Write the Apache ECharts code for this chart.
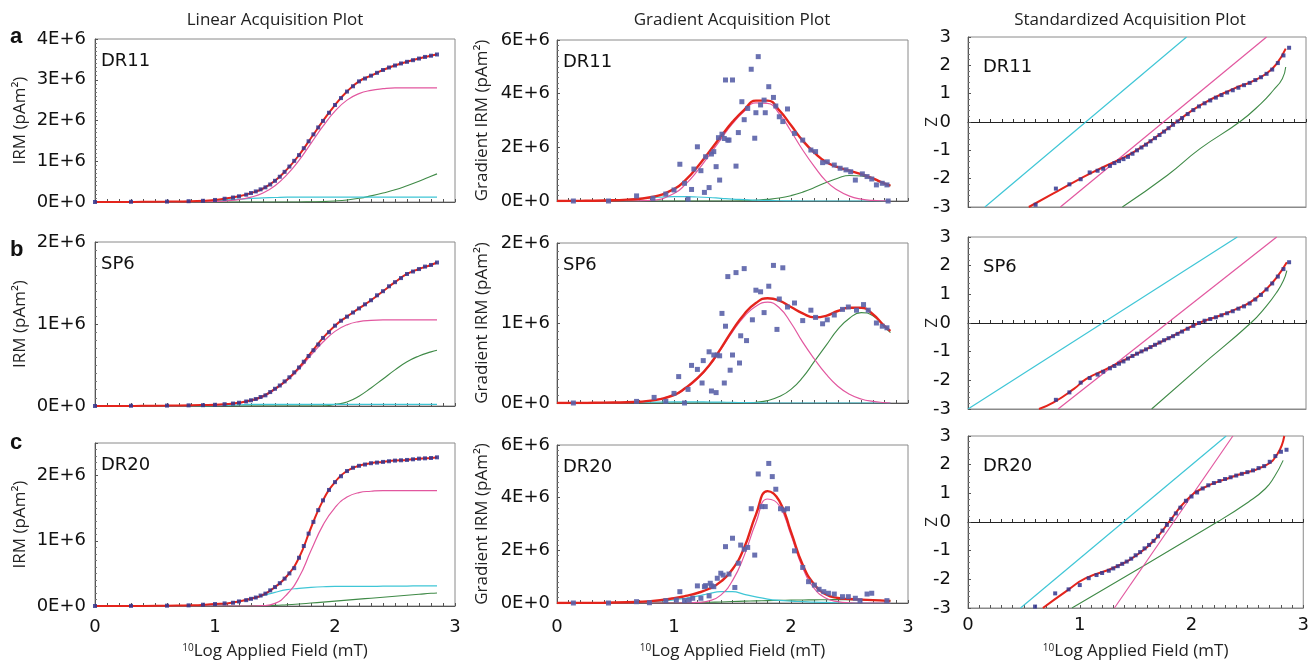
<!DOCTYPE html>
<html><head><meta charset="utf-8">
<script src="https://cdn.jsdelivr.net/npm/echarts@6/dist/echarts.min.js"></script>
<style>html,body{margin:0;padding:0;background:#fff}#c{width:1312px;height:661px}</style>
</head><body><div id="c"></div>
<script>
// ---------- DATA ----------
// x grid (log10 applied field, mT) for model curves in linear & gradient plots
const curveX = [0,0.2,0.4,0.6,0.8,1.0,1.1,1.2,1.3,1.4,1.5,1.6,1.7,1.8,1.9,2.0,2.1,2.2,2.3,2.4,2.5,2.6,2.7,2.8,2.85];

// Linear acquisition (IRM, units of 1E+6 pAm²)
const linDR11Total = [0,0,0.005,0.01,0.02,0.05,0.09,0.14,0.22,0.33,0.52,0.80,1.15,1.57,1.99,2.38,2.71,2.96,3.10,3.24,3.35,3.44,3.52,3.59,3.62];
const linDR11Pink  = [0,0,0,0,0,0.01,0.03,0.06,0.12,0.22,0.40,0.67,1.02,1.44,1.86,2.23,2.50,2.66,2.74,2.78,2.80,2.80,2.80,2.80,2.80];
const linDR11Cyan  = [0,0,0,0,0.01,0.03,0.05,0.07,0.09,0.10,0.11,0.12,0.12,0.12,0.12,0.12,0.12,0.12,0.12,0.12,0.12,0.12,0.12,0.12,0.12];
const linDR11Green = [0,0,0,0,0,0,0,0,0,0,0,0,0,0.005,0.01,0.025,0.05,0.09,0.15,0.22,0.30,0.40,0.51,0.63,0.69];

const linSP6Total = [0,0,0.002,0.005,0.01,0.015,0.025,0.04,0.07,0.12,0.21,0.32,0.47,0.65,0.83,0.98,1.09,1.19,1.29,1.40,1.51,1.61,1.67,1.72,1.75];
const linSP6Pink  = [0,0,0,0,0.005,0.01,0.02,0.035,0.065,0.11,0.2,0.31,0.45,0.62,0.78,0.91,0.99,1.03,1.045,1.05,1.05,1.05,1.05,1.05,1.05];
const linSP6Cyan  = [0,0,0,0,0,0.005,0.01,0.015,0.02,0.02,0.02,0.02,0.02,0.02,0.02,0.02,0.02,0.02,0.02,0.02,0.02,0.02,0.02,0.02,0.02];
const linSP6Green = [0,0,0,0,0,0,0,0,0,0,0,0,0,0,0,0.02,0.05,0.12,0.22,0.33,0.44,0.54,0.61,0.66,0.68];

const linDR20Total = [0,0,0,0.005,0.01,0.03,0.04,0.07,0.11,0.17,0.29,0.46,0.74,1.20,1.62,1.90,2.07,2.15,2.19,2.21,2.23,2.24,2.26,2.27,2.28];
const linDR20Pink  = [0,0,0,0,0,0,0,0,0,0.005,0.04,0.18,0.44,0.85,1.24,1.51,1.67,1.74,1.76,1.77,1.77,1.77,1.77,1.77,1.77];
const linDR20Cyan  = [0,0,0,0,0.005,0.02,0.04,0.07,0.11,0.16,0.21,0.25,0.27,0.285,0.295,0.30,0.30,0.30,0.30,0.305,0.305,0.305,0.31,0.31,0.31];
const linDR20Green = [0,0,0,0,0,0,0,0,0.002,0.005,0.01,0.02,0.03,0.045,0.06,0.075,0.09,0.105,0.12,0.135,0.15,0.165,0.18,0.195,0.2];

// measured fields (log10 mT) for IRM / z data points
const fieldLog = [0,0.3,0.6,0.78,0.9,1.0,1.08,1.15,1.2,1.26,1.3,1.34,1.38,1.42,1.46,1.5,1.54,1.58,1.62,1.66,1.7,1.74,1.78,1.82,1.86,1.9,1.95,2.0,2.05,2.1,2.15,2.2,2.25,2.3,2.35,2.4,2.45,2.5,2.55,2.6,2.65,2.7,2.75,2.8,2.85];
const linDR11Pts = [0,0.005,0.01,0.02,0.03,0.05,0.08,0.11,0.14,0.18,0.22,0.26,0.31,0.36,0.43,0.52,0.62,0.74,0.87,1.01,1.15,1.32,1.49,1.66,1.83,1.99,2.19,2.38,2.55,2.71,2.84,2.96,3.03,3.10,3.17,3.24,3.30,3.35,3.40,3.44,3.48,3.52,3.56,3.59,3.62];
const linSP6Pts  = [0,0.003,0.005,0.008,0.01,0.015,0.022,0.03,0.04,0.055,0.07,0.085,0.11,0.13,0.17,0.21,0.25,0.30,0.35,0.41,0.47,0.54,0.61,0.68,0.75,0.83,0.90,0.98,1.04,1.09,1.14,1.19,1.24,1.29,1.35,1.40,1.46,1.51,1.56,1.61,1.64,1.67,1.70,1.72,1.75];
const linDR20Pts = [0,0.002,0.005,0.01,0.02,0.03,0.04,0.05,0.07,0.09,0.11,0.13,0.16,0.19,0.24,0.29,0.35,0.42,0.50,0.58,0.74,0.92,1.11,1.29,1.47,1.62,1.78,1.90,1.99,2.07,2.12,2.15,2.17,2.19,2.20,2.21,2.22,2.23,2.235,2.24,2.25,2.26,2.265,2.27,2.28];

// Gradient acquisition (units of 1E+6 pAm² per log unit)
const grdDR11Total = [0,0.005,0.02,0.05,0.14,0.44,0.79,1.27,1.83,2.40,2.95,3.40,3.74,3.74,3.38,2.82,2.25,1.80,1.45,1.26,1.13,1.00,0.84,0.65,0.57];
const grdDR11Pink  = [0,0,0,0,0.02,0.28,0.63,1.12,1.70,2.30,2.88,3.34,3.66,3.64,3.25,2.60,1.90,1.28,0.74,0.40,0.18,0.07,0.02,0.005,0];
const grdDR11Cyan  = [0,0,0.01,0.05,0.12,0.16,0.16,0.15,0.13,0.10,0.07,0.05,0.03,0.02,0.01,0.005,0,0,0,0,0,0,0,0,0];
const grdDR11Green = [0,0,0,0,0,0,0,0,0,0,0,0.01,0.03,0.06,0.11,0.2,0.33,0.5,0.69,0.85,0.95,0.93,0.82,0.64,0.57];
const grdDR11PtX = [0.14,0.44,0.68,0.82,0.93,1.00,1.05,1.09,1.12,1.15,1.17,1.20,1.23,1.26,1.27,1.30,1.32,1.34,1.36,1.38,1.39,1.41,1.43,1.44,1.46,1.47,1.50,1.53,1.55,1.58,1.60,1.63,1.66,1.69,1.70,1.72,1.74,1.77,1.78,1.81,1.85,1.87,1.90,1.93,1.97,2.03,2.10,2.17,2.21,2.27,2.31,2.37,2.42,2.47,2.51,2.55,2.61,2.65,2.69,2.73,2.78,2.82,2.83];
const grdDR11PtY = [0,0,0.19,0.10,0.26,0.41,1.37,0.66,0.07,0.43,1.19,2.02,1.13,0.32,1.65,0.50,1.75,1.84,1.28,2.36,0.78,2.49,2.33,4.51,2.27,2.27,4.51,1.30,2.55,3.70,3.03,3.45,4.91,2.34,3.29,5.38,3.58,3.76,3.29,4.26,3.86,3.54,3.14,2.96,3.43,2.52,2.27,1.90,1.84,1.43,1.46,1.34,1.22,1.16,1.09,0.78,1.01,0.91,0.82,0.60,0.66,0.60,0];

const grdSP6Total = [0,0,0.005,0.01,0.03,0.10,0.19,0.31,0.47,0.68,0.91,1.11,1.25,1.31,1.28,1.20,1.12,1.07,1.09,1.15,1.19,1.19,1.11,0.96,0.90];
const grdSP6Pink  = [0,0,0,0.005,0.03,0.10,0.18,0.30,0.46,0.67,0.89,1.08,1.21,1.26,1.19,1.0,0.76,0.55,0.36,0.21,0.11,0.05,0.02,0.005,0];
const grdSP6Cyan  = [0,0,0,0.005,0.01,0.015,0.015,0.015,0.012,0.01,0.008,0.005,0.003,0,0,0,0,0,0,0,0,0,0,0,0];
const grdSP6Green = [0,0,0,0,0,0,0,0,0,0,0,0,0.01,0.03,0.08,0.17,0.32,0.52,0.72,0.92,1.06,1.13,1.09,0.95,0.88];
const grdSP6PtX = [0.14,0.68,0.83,0.93,1.00,1.04,1.09,1.12,1.15,1.20,1.24,1.25,1.30,1.32,1.34,1.36,1.37,1.39,1.41,1.43,1.44,1.46,1.48,1.50,1.53,1.56,1.57,1.60,1.62,1.67,1.70,1.74,1.77,1.81,1.85,1.88,1.90,1.93,1.97,2.03,2.10,2.17,2.21,2.27,2.31,2.37,2.44,2.49,2.56,2.62,2.66,2.73,2.78,2.82];
const grdSP6PtY = [0,0.02,0.07,0.02,0.12,0.33,0,0.17,0.47,0.42,0.25,0.53,0.64,0.15,0.60,0.13,0.60,0.59,1.12,0.25,0.96,1.58,0.41,0.60,1.63,0.50,0.84,1.68,0.78,1.04,1.41,1.39,1.13,1.46,1.72,0.92,1.30,1.69,1.20,1.25,1.03,1.16,1.07,0.99,1.04,1.10,1.17,1.20,1.16,1.23,1.16,1.00,0.96,0.94];

const grdDR20Total = [0,0.005,0.01,0.03,0.07,0.18,0.27,0.38,0.54,0.81,1.28,2.10,3.35,4.25,3.88,2.70,1.45,0.70,0.32,0.19,0.15,0.13,0.11,0.09,0.08];
const grdDR20Pink  = [0,0,0,0,0,0,0.005,0.02,0.08,0.30,0.85,1.80,3.05,3.95,3.70,2.58,1.33,0.55,0.18,0.05,0.01,0,0,0,0];
const grdDR20Cyan  = [0,0,0,0.01,0.05,0.12,0.18,0.26,0.36,0.43,0.43,0.33,0.23,0.15,0.10,0.07,0.05,0.03,0.02,0.01,0.005,0,0,0,0];
const grdDR20Green = [0,0,0,0,0.005,0.01,0.015,0.02,0.03,0.04,0.055,0.07,0.08,0.09,0.10,0.11,0.115,0.12,0.125,0.13,0.125,0.12,0.11,0.09,0.08];
const grdDR20PtX = [0.14,0.44,0.68,0.79,0.93,1.02,1.05,1.09,1.13,1.16,1.20,1.23,1.26,1.27,1.30,1.31,1.32,1.34,1.37,1.40,1.42,1.44,1.47,1.50,1.52,1.55,1.57,1.60,1.63,1.66,1.69,1.72,1.75,1.78,1.81,1.84,1.87,1.91,1.94,1.97,2.03,2.10,2.15,2.20,2.24,2.28,2.32,2.37,2.44,2.49,2.55,2.59,2.65,2.69,2.82];
const grdDR20PtY = [0,0,0.05,0.01,0.09,0.11,0.43,0.09,0.11,0.18,0.65,0.18,0.62,0.66,0.27,0.75,0.65,0.62,0.94,1.13,1.06,2.14,1.10,2.46,0.59,1.51,2.20,2.04,2.11,3.58,1.82,4.90,3.66,3.66,5.30,4.80,4.32,3.58,3.53,3.58,1.98,1.35,0.81,0.68,0.52,0.43,0.37,0.34,0.24,0.24,0.18,0.09,0.34,0.37,0.09];

// Standardized acquisition (z values) at fieldLog; null = below plotted range
const zDR11Pts = [null,null,-2.92,-2.35,-2.2,-2.02,-1.78,-1.72,-1.65,-1.55,-1.45,-1.38,-1.31,-1.23,-1.12,-1.0,-0.90,-0.80,-0.68,-0.57,-0.46,-0.34,-0.22,-0.10,0.02,0.14,0.28,0.42,0.55,0.66,0.76,0.86,0.95,1.04,1.12,1.21,1.30,1.38,1.48,1.58,1.70,1.85,2.08,2.35,2.62];
const zSP6Pts  = [null,null,null,-2.68,-2.42,-2.08,-1.92,-1.8,-1.7,-1.58,-1.50,-1.42,-1.34,-1.24,-1.15,-1.07,-0.99,-0.92,-0.84,-0.76,-0.68,-0.60,-0.53,-0.46,-0.38,-0.30,-0.2,-0.1,0.0,0.08,0.14,0.2,0.27,0.34,0.41,0.5,0.58,0.68,0.82,0.98,1.17,1.38,1.62,1.88,2.12];
const zDR20Pts = [null,null,-2.95,-2.49,-2.35,-2.2,-1.96,-1.85,-1.78,-1.70,-1.62,-1.54,-1.46,-1.38,-1.28,-1.16,-1.05,-0.92,-0.80,-0.66,-0.5,-0.3,-0.1,0.1,0.3,0.5,0.74,0.89,1.03,1.17,1.28,1.36,1.43,1.50,1.56,1.62,1.68,1.74,1.80,1.88,1.95,2.1,2.3,2.45,2.52];
// model lines [log field, z]
const zDR11Total = [[0.54,-3],[0.75,-2.54],[0.94,-2.12],[1.17,-1.65],[1.47,-1.06],[1.77,-0.24],[1.85,0],[2.06,0.59],[2.36,1.18],[2.51,1.41],[2.65,1.71],[2.74,2.06],[2.82,2.59]];
const zDR11Cyan  = [[0.15,-3],[1.94,3]];
const zDR11Pink  = [[0.82,-3],[2.65,3]];
const zDR11Green = [[1.37,-3],[1.77,-1.88],[2.06,-0.94],[2.41,0],[2.60,0.65],[2.71,1.12],[2.79,1.53],[2.82,1.94]];
const zSP6Total = [[0.63,-3],[0.76,-2.77],[0.94,-2.3],[1.05,-1.95],[1.2,-1.66],[1.47,-1.13],[1.77,-0.55],[2.05,0],[2.21,0.22],[2.36,0.45],[2.51,0.74],[2.65,1.19],[2.74,1.59],[2.83,2.12]];
const zSP6Cyan  = [[0.0,-3],[2.39,3]];
const zSP6Pink  = [[0.80,-3],[2.74,3]];
const zSP6Green = [[1.63,-3],[2.06,-1.52],[2.51,0],[2.65,0.6],[2.74,1.07],[2.80,1.48],[2.83,1.83]];
const zDR20Total = [[0.67,-3],[0.88,-2.41],[1.05,-1.97],[1.32,-1.57],[1.53,-1.10],[1.68,-0.58],[1.81,0.06],[1.94,0.70],[2.09,1.16],[2.36,1.57],[2.66,1.97],[2.77,2.38],[2.83,3.0]];
const zDR20Cyan  = [[0.47,-3],[2.31,3]];
const zDR20Pink  = [[1.31,-3],[2.37,3]];
const zDR20Green = [[0.93,-3],[2.23,0],[2.51,0.7],[2.66,1.16],[2.74,1.57],[2.82,2.15]];

const sampleNames = ['DR11','SP6','DR20'];
const panelLetters = ['a','b','c'];
const colTitles = ['Linear Acquisition Plot','Gradient Acquisition Plot','Standardized Acquisition Plot'];
const xTickLabels = ['0','1','2','3'];

// ---------- BUILD ----------
const zipXY = (xs, ys) => xs.map((x, i) => [x, ys[i]]).filter(p => p[1] != null);
const panels = [
  [ {t:linDR11Total,p:linDR11Pink,c:linDR11Cyan,g:linDR11Green,pts:zipXY(fieldLog,linDR11Pts)},
    {t:linSP6Total,p:linSP6Pink,c:linSP6Cyan,g:linSP6Green,pts:zipXY(fieldLog,linSP6Pts)},
    {t:linDR20Total,p:linDR20Pink,c:linDR20Cyan,g:linDR20Green,pts:zipXY(fieldLog,linDR20Pts)} ],
  [ {t:grdDR11Total,p:grdDR11Pink,c:grdDR11Cyan,g:grdDR11Green,pts:zipXY(grdDR11PtX,grdDR11PtY)},
    {t:grdSP6Total,p:grdSP6Pink,c:grdSP6Cyan,g:grdSP6Green,pts:zipXY(grdSP6PtX,grdSP6PtY)},
    {t:grdDR20Total,p:grdDR20Pink,c:grdDR20Cyan,g:grdDR20Green,pts:zipXY(grdDR20PtX,grdDR20PtY)} ],
  [ {t:zDR11Total,p:zDR11Pink,c:zDR11Cyan,g:zDR11Green,pts:zipXY(fieldLog,zDR11Pts)},
    {t:zSP6Total,p:zSP6Pink,c:zSP6Cyan,g:zSP6Green,pts:zipXY(fieldLog,zSP6Pts)},
    {t:zDR20Total,p:zDR20Pink,c:zDR20Cyan,g:zDR20Green,pts:zipXY(fieldLog,zDR20Pts)} ]
];

const COL = [
  {left:95, width:360, yName:'IRM (pAm²)', yGap:66, lblMargin:9, xGap:37, xLblMargin:12,
   rows:[{top:39,h:163,max:4,iv:1},{top:242,h:164,max:2,iv:1},{top:443,h:163,max:2.5,iv:1}]},
  {left:557, width:351, yName:'Gradient IRM (pAm²)', yGap:66, lblMargin:7, xGap:40, xLblMargin:15,
   rows:[{top:40,h:161,max:6,iv:2},{top:243,h:160,max:2,iv:1},{top:445,h:158,max:6,iv:2}]},
  {left:968, width:338, yName:'Z', yGap:27, lblMargin:17, xGap:35, xLblMargin:8,
   rows:[{top:37,h:170,min:-3,max:3,iv:1},{top:237,h:172,min:-3,max:3,iv:1},{top:436,h:172,min:-3,max:3,iv:1}]}
];

const C = {red:'#e4241c', pink:'#e2579f', cyan:'#3fc6d6', green:'#3f8a47', dot:'#33368f', gdot:'#5a62a8', axis:'#555', frame:'#8a8a8a'};
const tickFont = {fontFamily:'DejaVu Sans', fontSize:18, color:'#111'};
const eFmt = v => v === 0 ? '0E+0' : (v + 'E+6');

const grids = [], xAxes = [], yAxes = [], series = [], graphics = [];
let gi = 0;
for (let c = 0; c < 3; c++) {
  const col = COL[c];
  for (let r = 0; r < 3; r++) {
    const rw = col.rows[r];
    grids.push({left:col.left, top:rw.top, width:col.width, height:rw.h, show:true, borderColor:C.frame, borderWidth:1});
    const last = r === 2;
    xAxes.push({
      gridIndex:gi, type:'value', min:0, max:3, interval:1, position:'bottom',
      axisLine:{show:true, onZero:false, lineStyle:{color: c===2 ? C.frame : C.axis, width:1}},
      axisTick:{show: c!==2 || last, inside:true, length:3, lineStyle:{color:C.axis}},
      minorTick:{show: c!==2 || last, splitNumber:10, length:3, lineStyle:{color:C.axis}},
      splitLine:{show:false},
      axisLabel:{show:last, margin:col.xLblMargin, formatter: v => xTickLabels[Math.round(v)], ...tickFont},
      name: last ? '{s|10}{n|Log Applied Field (mT)}' : '',
      nameLocation:'middle', nameGap:col.xGap, nameMoveOverlap:false,
      nameTextStyle:{rich:{s:{fontFamily:'Open Sans', fontSize:10, color:'#222', verticalAlign:'top', padding:[0,0,6,0]},
                           n:{fontFamily:'Open Sans', fontSize:17, color:'#222'}}}
    });
    const xi = xAxes.length - 1;
    if (c === 2) {
      xAxes.push({
        gridIndex:gi, type:'value', min:0, max:3, interval:1, position:'bottom',
        axisLine:{show:true, onZero:true, lineStyle:{color:'#222', width:1}},
        axisTick:{show:true, inside:true, length:3, lineStyle:{color:'#333'}},
        minorTick:{show:true, splitNumber:10, length:3, lineStyle:{color:'#333'}},
        splitLine:{show:false}, axisLabel:{show:false}
      });
    }
    yAxes.push({
      gridIndex:gi, type:'value', min: rw.min != null ? rw.min : 0, max:rw.max, interval:rw.iv,
      axisLine:{show:true, onZero:false, lineStyle:{color:C.axis}},
      axisTick:{show:true, inside:true, length:3, lineStyle:{color:C.axis}},
      minorTick:{show:true, splitNumber: c===2 ? 5 : 10, length:2, lineStyle:{color:'#777'}},
      splitLine:{show:false},
      axisLabel:{margin:col.lblMargin, showMaxLabel: rw.max !== 2.5, formatter: c===2 ? (v => String(v)) : eFmt, ...tickFont},
      name: col.yName, nameLocation:'middle', nameGap:col.yGap, nameRotate:90, nameMoveOverlap:false,
      nameTextStyle:{fontFamily:'Open Sans', fontSize:17, color:'#222'}
    });
    const yi = yAxes.length - 1;
    const pd = panels[c][r];
    const toXY = arr => c === 2 ? arr : curveX.map((x, i) => [x, arr[i]]);
    const lineS = (data, color, w, z) => ({type:'line', xAxisIndex:xi, yAxisIndex:yi, data:toXY(data), showSymbol:false,
      smooth: (c===2 && data.length===2) ? false : 0.5, clip:true, silent:true, z:z,
      lineStyle:{color:color, width:w}});
    series.push(lineS(pd.g, C.green, 1.1, 2));
    series.push(lineS(pd.c, C.cyan, 1.2, 2));
    series.push(lineS(pd.p, C.pink, 1.2, 3));
    series.push(lineS(pd.t, C.red, c===1 ? 2.4 : 2, 4));
    series.push({type:'scatter', xAxisIndex:xi, yAxisIndex:yi, data:pd.pts, symbol:'rect', clip:true, silent:true, z:5,
      symbolSize: c===1 ? 5 : 4, itemStyle:{color: c===1 ? C.gdot : C.dot, opacity: c===1 ? 0.9 : 0.85}});
    // sample name inside plot
    graphics.push({type:'text', left: col.left + (c===2 ? 15 : 6), top: rw.top + (c===2 ? 21 : 13),
      style:{text: sampleNames[r], font:'18px "DejaVu Sans"', fill:'#111'}});
    gi++;
  }
}
// column titles
const titleCx = [275, 732, 1130];
for (let c = 0; c < 3; c++) {
  graphics.push({type:'text', x:titleCx[c], y:20, style:{text:colTitles[c], font:'17px "Open Sans"', fill:'#222', align:'center', verticalAlign:'middle'}});
}
// panel letters
const letterY = [37, 250, 443];
for (let r = 0; r < 3; r++) {
  graphics.push({type:'text', x:10, y:letterY[r], style:{text:panelLetters[r], font:'bold 22px "Liberation Sans"', fill:'#111', align:'left', verticalAlign:'middle'}});
}

const chart = echarts.init(document.getElementById('c'), null, {renderer:'canvas'});
chart.setOption({animation:false, backgroundColor:'#fff', grid:grids, xAxis:xAxes, yAxis:yAxes, series:series, graphic:graphics});
</script>
</body></html>
